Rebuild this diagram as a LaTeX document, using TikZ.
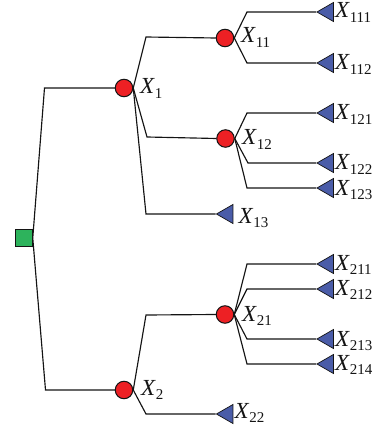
\documentclass[tikz,border=0pt]{standalone}
\usepackage{fontspec}
\setmainfont{Liberation Serif}
\usetikzlibrary{shapes.geometric}
\definecolor{chancered}{HTML}{ED2024}
\definecolor{leafblue}{HTML}{4A5CA8}
\definecolor{rootgreen}{HTML}{2DB35C}
\definecolor{inkgray}{HTML}{141414}
\newcommand{\lab}[1]{{\fontsize{23}{23}\selectfont\itshape X\kern0.5pt}\raisebox{-4.5pt}{\fontsize{15}{15}\selectfont #1}}
\tikzset{
  rootbox/.style={draw=inkgray,line width=1pt,fill=rootgreen,minimum size=16.5pt,inner sep=0pt,rectangle},
  chance/.style={draw=inkgray,line width=1pt,fill=chancered,circle,minimum size=17.5pt,inner sep=0pt},
  leaf/.style={draw=inkgray,line width=0.7pt,fill=leafblue,isosceles triangle,shape border rotate=180,isosceles triangle stretches,minimum width=19pt,minimum height=16.5pt,inner sep=0pt,anchor=apex},
  tag/.style={anchor=base west,inner sep=0pt,text=inkgray},
  wire/.style={draw=inkgray,line width=1.15pt,line join=miter},
}
\begin{document}
\begin{tikzpicture}[x=1pt,y=-1pt]
\useasboundingbox (0,0) rectangle (375,430);
% bends
\coordinate (b1) at (44.5,88);
\coordinate (b2) at (45.5,390);
\coordinate (b11) at (146,37);
\coordinate (b12) at (147,137);
\coordinate (b13) at (146,214);
\coordinate (b21) at (146,315);
\coordinate (b22) at (146,414);
\coordinate (b111) at (247,12);
\coordinate (b112) at (247,63);
\coordinate (b121) at (247,113);
\coordinate (b122) at (248,163);
\coordinate (b123) at (247,188);
\coordinate (b211) at (247,264);
\coordinate (b212) at (247,289);
\coordinate (b213) at (247,339);
\coordinate (b214) at (247,364);
% nodes
\node[rootbox] (r) at (24,238) {};
\node[chance] (n1) at (124,88) {};
\node[chance] (n2) at (124,390) {};
\node[chance] (n11) at (225,38) {};
\node[chance] (n12) at (225.5,138.5) {};
\node[chance] (n21) at (225,314.5) {};
\node[leaf] (t13) at (215.5,214) {};
\node[leaf] (t22) at (215.5,414) {};
\node[leaf] (t111) at (316,12) {};
\node[leaf] (t112) at (316,63) {};
\node[leaf] (t121) at (316,113) {};
\node[leaf] (t122) at (316,163) {};
\node[leaf] (t123) at (316,188) {};
\node[leaf] (t211) at (316,264) {};
\node[leaf] (t212) at (316,289) {};
\node[leaf] (t213) at (316,339) {};
\node[leaf] (t214) at (316,364) {};
% connectors
\draw[wire] (r.east) -- (b1) -- (n1.west);
\draw[wire] (r.east) -- (b2) -- (n2.west);
\draw[wire] (n1.east) -- (b11) -- (n11.west);
\draw[wire] (n1.east) -- (b12) -- (n12.west);
\draw[wire] (n1.east) -- (b13) -- (t13.apex);
\draw[wire] (n2.east) -- (b21) -- (n21.west);
\draw[wire] (n2.east) -- (b22) -- (t22.apex);
\draw[wire] (n11.east) -- (b111) -- (t111.apex);
\draw[wire] (n11.east) -- (b112) -- (t112.apex);
\draw[wire] (n12.east) -- (b121) -- (t121.apex);
\draw[wire] (n12.east) -- (b122) -- (t122.apex);
\draw[wire] (n12.east) -- (b123) -- (t123.apex);
\draw[wire] (n21.east) -- (b211) -- (t211.apex);
\draw[wire] (n21.east) -- (b212) -- (t212.apex);
\draw[wire] (n21.east) -- (b213) -- (t213.apex);
\draw[wire] (n21.east) -- (b214) -- (t214.apex);
% labels
\node[tag] (l1) at (140,94) {\lab{1}};
\node[tag] (l2) at (141,395) {\lab{2}};
\node[tag] (l11) at (241,43) {\lab{11}};
\node[tag] (l12) at (242,145) {\lab{12}};
\node[tag] (l13) at (238.5,223) {\lab{13}};
\node[tag] (l21) at (242,321) {\lab{21}};
\node[tag] (l22) at (234.5,418) {\lab{22}};
\node[tag] (l111) at (335,18) {\lab{111}};
\node[tag] (l112) at (335,70) {\lab{112}};
\node[tag] (l121) at (335,120) {\lab{121}};
\node[tag] (l122) at (335,170) {\lab{122}};
\node[tag] (l123) at (335,195) {\lab{123}};
\node[tag] (l211) at (335,270) {\lab{211}};
\node[tag] (l212) at (335,295) {\lab{212}};
\node[tag] (l213) at (335,346) {\lab{213}};
\node[tag] (l214) at (335,370) {\lab{214}};
\end{tikzpicture}
\end{document}
